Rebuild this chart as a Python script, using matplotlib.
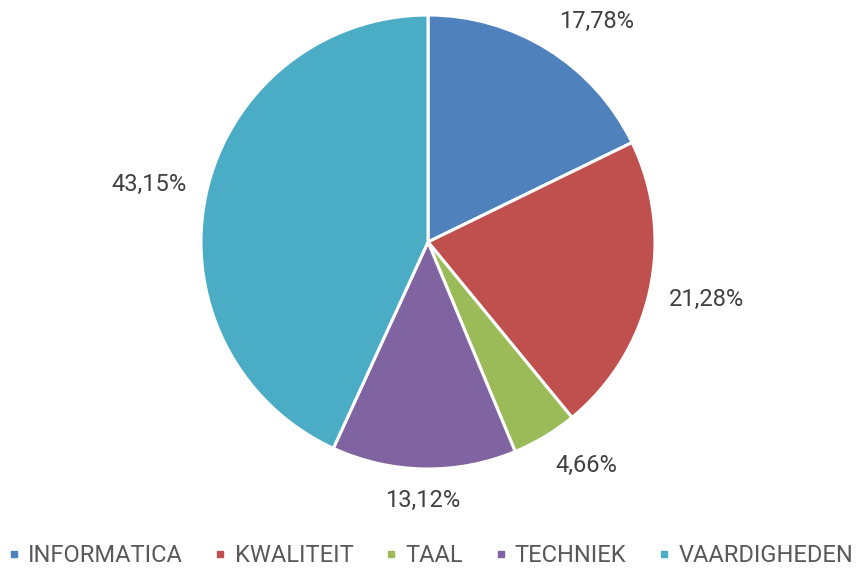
import matplotlib.pyplot as plt
from matplotlib.lines import Line2D
import numpy as np

plt.rcParams['font.family'] = 'Roboto'

categories = ['INFORMATICA', 'KWALITEIT', 'TAAL', 'TECHNIEK', 'VAARDIGHEDEN']
values = [17.78, 21.28, 4.66, 13.12, 43.15]
labels = ['17,78%', '21,28%', '4,66%', '13,12%', '43,15%']
colors = ['#4F81BD', '#C0504D', '#9BBB59', '#8064A2', '#4BACC6']

fig = plt.figure(figsize=(8.58, 5.68), dpi=100)
ax = fig.add_axes([0, 0, 1, 1])
cx, cy, r = 428, 326, 227

wedges, _ = ax.pie(values, colors=colors, startangle=90, counterclock=False,
                   center=(cx, cy), radius=r,
                   wedgeprops=dict(edgecolor='white', linewidth=2.2))
ax.set_xlim(0, 858)
ax.set_ylim(0, 568)
ax.set_aspect('equal')
ax.axis('off')

# outside-end labels: anchor a point of the text box near the wedge's mid angle
fig.canvas.draw()
renderer = fig.canvas.get_renderer()
gap = 20
for w, lab in zip(wedges, labels):
    ang = np.deg2rad((w.theta1 + w.theta2) / 2)
    t = ax.text(0, 0, lab, ha='center', va='center', fontsize=17, color='#404040')
    bb = t.get_window_extent(renderer)
    fx = np.clip(0.5 - np.cos(ang), 0, 1)
    fy = np.clip(0.5 - np.sin(ang), 0, 1)
    px = cx + (r + gap) * np.cos(ang)
    py = cy + (r + gap) * np.sin(ang)
    t.set_position((px + (0.5 - fx) * bb.width, py + (0.5 - fy) * bb.height))

handles = [Line2D([], [], marker='s', linestyle='none', markersize=5,
                  markerfacecolor=c, markeredgecolor=c) for c in colors]
fig.legend(handles, categories, loc='center left', bbox_to_anchor=(10 / 858, 1 - 556 / 568),
           ncol=5, frameon=False, fontsize=17, labelcolor='#595959',
           handlelength=0.3, handletextpad=0.45, columnspacing=1.45, borderpad=0,
           borderaxespad=0)

fig.savefig('out.png', dpi=100)
